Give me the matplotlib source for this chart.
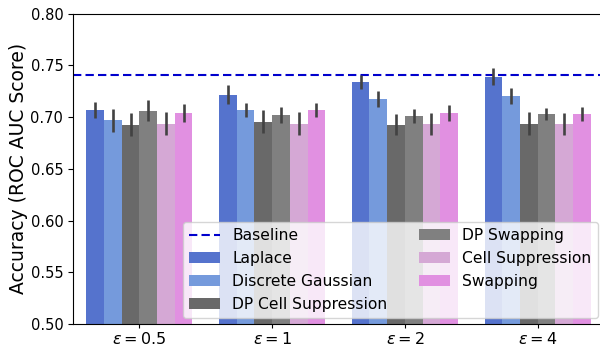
import numpy as np
import matplotlib
matplotlib.use("Agg")
import matplotlib.pyplot as plt
import seaborn as sns

# Valeurs
eps_labels = [r"$\epsilon = 0.5$", r"$\epsilon = 1$", r"$\epsilon = 2$", r"$\epsilon = 4$"]
methods = ["Laplace", "Discrete Gaussian", "DP Cell Suppression",
           "DP Swapping", "Cell Suppression", "Swapping"]
base_colors = ["royalblue", "cornflowerblue", "dimgray", "gray", "plum", "violet"]

laplace = [0.707, 0.7215, 0.734, 0.739]
discrete_gaussian = [0.697, 0.707, 0.7175, 0.7205]
dp_cell_suppression = [0.6925, 0.6955, 0.6925, 0.6935]
dp_swapping = [0.706, 0.702, 0.701, 0.703]
cell_suppression = [0.6935, 0.6935, 0.6935, 0.6935]
swapping = [0.704, 0.707, 0.704, 0.703]

laplace_err = [0.008, 0.009, 0.007, 0.008]
discrete_gaussian_err = [0.011, 0.0065, 0.0075, 0.008]
dp_cell_suppression_err = [0.011, 0.011, 0.010, 0.011]
dp_swapping_err = [0.010, 0.008, 0.0065, 0.006]
cell_suppression_err = [0.011, 0.011, 0.0105, 0.0105]
swapping_err = [0.009, 0.0065, 0.0075, 0.0065]

baseline = 0.741

values = [laplace, discrete_gaussian, dp_cell_suppression,
          dp_swapping, cell_suppression, swapping]
errors = [laplace_err, discrete_gaussian_err, dp_cell_suppression_err,
          dp_swapping_err, cell_suppression_err, swapping_err]
colors = [sns.desaturate(c, 0.75) for c in base_colors]

fig = plt.figure(figsize=(6.0, 3.47), dpi=100)
ax = fig.add_axes([0.1217, 0.066, 0.885, 0.895])

x = np.arange(len(eps_labels))
n = len(methods)
width = 0.8 / n
ax.axhline(baseline, color="mediumblue", linestyle="--", linewidth=1.5,
           dashes=(4, 2), label="Baseline")
for i in range(n):
  pos = x - 0.4 + width * (i + 0.5)
  ax.bar(pos, values[i], width, color=colors[i], label=methods[i])
  ax.errorbar(pos, values[i], yerr=errors[i], fmt="none",
              ecolor="#424242", elinewidth=1.9, capsize=0)

ax.set_xlim(-0.5, 3.5)
ax.set_ylim(0.5, 0.8)
ax.set_xticks(x)
ax.set_xticklabels(eps_labels, fontsize=11.5)
ax.tick_params(axis="x", pad=2, length=3)
ax.tick_params(axis="y", labelsize=10.5)
ax.set_ylabel("Accuracy (ROC AUC Score)", fontsize=13.5, labelpad=2)

ax.legend(ncol=2, loc="lower right", fontsize=11.2, borderaxespad=0.4)

fig.savefig("out.png", dpi=100)
